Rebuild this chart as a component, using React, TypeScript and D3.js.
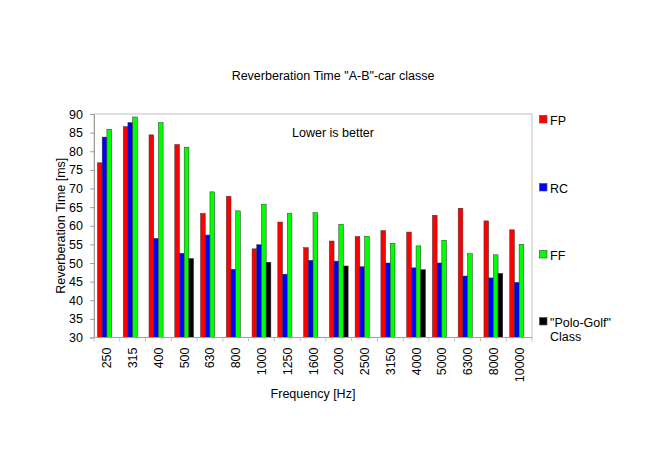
import { useEffect, useRef } from "react";
import * as d3 from "d3";

const categories = ["250", "315", "400", "500", "630", "800", "1000", "1250", "1600", "2000", "2500", "3150", "4000", "5000", "6300", "8000", "10000"];
const fp = [76.9, 86.6, 84.4, 81.8, 63.3, 67.9, 53.8, 61.0, 54.1, 55.9, 57.1, 58.7, 58.3, 62.8, 64.7, 61.3, 58.9];
const rc = [83.8, 87.7, 56.6, 52.6, 57.5, 48.3, 54.9, 47.0, 50.7, 50.5, 49.0, 50.0, 48.7, 50.0, 46.5, 46.0, 44.8];
const ff = [85.9, 89.2, 87.7, 81.1, 69.1, 64.0, 65.8, 63.3, 63.5, 60.4, 57.2, 55.3, 54.6, 56.1, 52.5, 52.2, 55.0];
const polo = [null, null, null, 51.2, null, null, 50.2, null, null, 49.2, null, null, 48.2, null, null, 47.2, null];
const seriesNames = ["FP", "RC", "FF", "Polo"];
const colors = ["#ff0000", "#0000ff", "#00ff00", "#000000"];
const yTicks = [30, 35, 40, 45, 50, 55, 60, 65, 70, 75, 80, 85, 90];

export default function App() {
  const ref = useRef<SVGSVGElement>(null);

  useEffect(() => {
    const svg = d3.select(ref.current!);
    svg.selectAll("*").remove();
    const font = "Liberation Sans, Arial, sans-serif";
    const fs = 12.5;
    const left = 94, right = 532, top = 114, bottom = 337.5;

    const x0 = d3.scaleBand().domain(categories).range([left, right]).padding(0);
    const x1 = d3
      .scaleBand()
      .domain(seriesNames)
      .range([0, x0.bandwidth()])
      .paddingInner(0)
      .paddingOuter(0.74);
    const y = d3.scaleLinear().domain([30, 90]).range([bottom, top]);

    const all = [fp, rc, ff, polo];

    // frame
    svg
      .append("rect")
      .attr("x", left)
      .attr("y", top)
      .attr("width", right - left)
      .attr("height", bottom - top)
      .attr("fill", "none")
      .attr("stroke", "#c0c0c0")
      .attr("stroke-width", 1);

    // bars
    const g = svg.append("g");
    categories.forEach((c, i) => {
      all.forEach((vals, s) => {
        const v = vals[i];
        if (v == null) return;
        g.append("rect")
          .attr("x", x0(c)! + x1(seriesNames[s])!)
          .attr("y", y(v))
          .attr("width", x1.bandwidth())
          .attr("height", y(30) - y(v))
          .attr("fill", colors[s])
          .attr("stroke", "#333")
          .attr("stroke-width", 0.5);
      });
    });

    // y axis
    const ya = svg
      .append("g")
      .attr("transform", `translate(${left},0)`)
      .call(d3.axisLeft(y).tickValues(yTicks).tickSize(4).tickPadding(7));
    ya.select(".domain").attr("stroke", "#a0a0a0");
    ya.selectAll(".tick line").attr("stroke", "#a0a0a0");
    ya.selectAll("text").attr("font-family", font).attr("font-size", fs).attr("fill", "#000");

    // x axis
    const xa = svg.append("g").attr("transform", `translate(0,${bottom})`);
    xa.append("line")
      .attr("x1", left)
      .attr("x2", right)
      .attr("stroke", "#a0a0a0");
    xa.selectAll("line.tk")
      .data(categories.concat(["end"]))
      .join("line")
      .attr("class", "tk")
      .attr("x1", (d, i) => (i < categories.length ? x0(d)! : right))
      .attr("x2", (d, i) => (i < categories.length ? x0(d)! : right))
      .attr("y1", 0)
      .attr("y2", 4)
      .attr("stroke", "#c0c0c0");
    xa.selectAll("text")
      .data(categories)
      .join("text")
      .attr("transform", (d) => `translate(${x0(d)! + x0.bandwidth() / 2 + 4.5},10) rotate(-90)`)
      .attr("text-anchor", "end")
      .attr("font-family", font)
      .attr("font-size", fs)
      .text((d) => d);

    // titles
    const label = (x: number, yy: number, t: string) =>
      svg
        .append("text")
        .attr("x", x)
        .attr("y", yy)
        .attr("text-anchor", "middle")
        .attr("font-family", font)
        .attr("font-size", fs)
        .text(t);
    label(333, 80, 'Reverberation Time "A-B"-car classe');
    label(333, 137, "Lower is better");
    label(313, 398, "Frequency [Hz]");
    svg
      .append("text")
      .attr("transform", `translate(65,${(top + bottom) / 2}) rotate(-90)`)
      .attr("text-anchor", "middle")
      .attr("font-family", font)
      .attr("font-size", fs)
      .text("Reverberation Time [ms]");

    // legend
    const legendY = [115, 183, 250, 317];
    const labels = [["FP"], ["RC"], ["FF"], ['"Polo-Golf"', "Class"]];
    labels.forEach((lines, i) => {
      svg
        .append("rect")
        .attr("x", 539.5)
        .attr("y", legendY[i] + 0.5)
        .attr("width", 7.5)
        .attr("height", 7.5)
        .attr("fill", colors[i])
        .attr("stroke", "#555")
        .attr("stroke-width", 0.7);
      lines.forEach((t, k) => {
        svg
          .append("text")
          .attr("x", 550)
          .attr("y", legendY[i] + 9.5 + k * 14.5)
          .attr("font-family", font)
          .attr("font-size", fs)
          .text(t);
      });
    });
  }, []);

  return (
    <svg
      ref={ref}
      width={667}
      height={472}
      style={{ position: "absolute", left: 0, top: 0, background: "#fff" }}
    />
  );
}
